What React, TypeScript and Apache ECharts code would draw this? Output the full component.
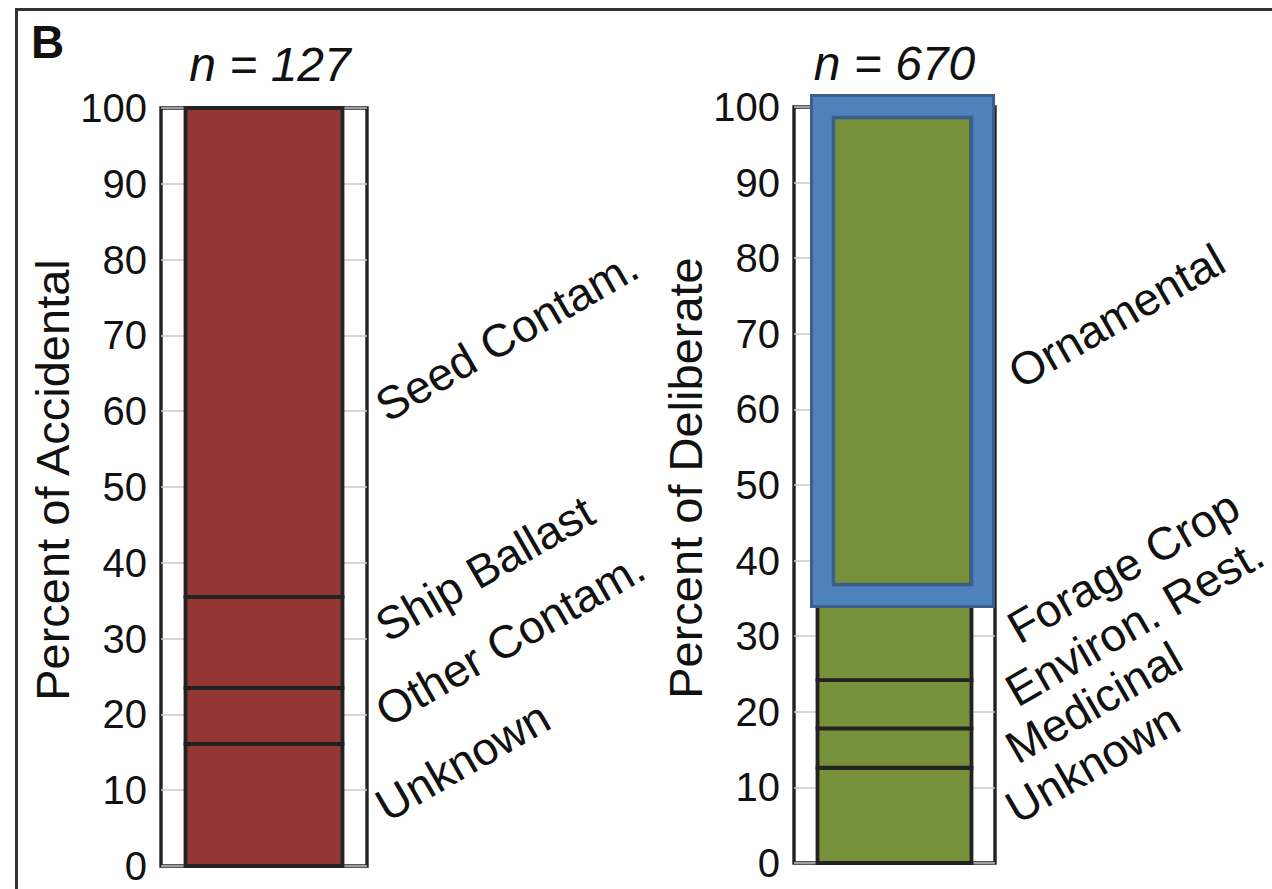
import React, { useEffect, useRef } from "react";
import * as echarts from "echarts";

// ---- data ----
const accidentalCategories = ["Unknown", "Other Contam.", "Ship Ballast", "Seed Contam."];
const accidentalValues = [16.1, 7.4, 12.0, 64.5];
const deliberateCategories = ["Unknown", "Medicinal", "Environ. Rest.", "Forage Crop", "Ornamental"];
const deliberateValues = [12.6, 5.2, 6.4, 10.8, 65.0];
const panelTitles = ["n = 127", "n = 670"];
const axisNames = ["Percent of Accidental", "Percent of Deliberate"];
const panelLetter = "B";

// ---- layout (pixels) ----
const accLabelPos = [
  [391, 829],
  [391, 734],
  [391, 649],
  [391, 429],
];
const delLabelPos = [
  [1021, 831],
  [1021, 771],
  [1021, 714],
  [1023, 651],
  [1024, 396],
];

const FONT = "'Liberation Sans', Arial, Helvetica, sans-serif";
const RED = "#933634";
const GREEN = "#77913a";
const EDGE = "#222222";

function stackSegments(values: number[]) {
  const out: number[][] = [];
  let acc = 0;
  values.forEach((v) => {
    out.push([0, acc, acc + v]);
    acc += v;
  });
  return out;
}

export default function App() {
  const ref = useRef<HTMLDivElement>(null);
  useEffect(() => {
    if (!ref.current) return;
    const chart = echarts.init(ref.current, null, { renderer: "svg" });

    const yAxisBase = (gridIndex: number, name: string) => ({
      type: "value",
      gridIndex,
      min: 0,
      max: 100,
      interval: 10,
      name,
      nameLocation: "middle",
      nameGap: 68,
      nameTextStyle: { fontSize: 47, color: "#111", fontFamily: FONT, padding: [0, 0, 0, 14] },
      axisLine: { show: false },
      axisTick: { show: false },
      axisLabel: { fontSize: 40, color: "#111", fontFamily: FONT, margin: 14 },
      splitLine: { show: true, lineStyle: { color: "#c8c8c8", width: 1.5 } },
    });

    const xAxisBase = (gridIndex: number, title: string, pad: number) => ({
      type: "category",
      gridIndex,
      position: "top",
      data: [title],
      axisLine: { show: false },
      axisTick: { show: false },
      axisLabel: {
        fontSize: 48,
        fontStyle: "italic",
        color: "#111",
        fontFamily: FONT,
        margin: 20,
        padding: [0, 0, 0, pad],
      },
      splitLine: { show: false },
    });

    const stackedSeries = (vals: number[], idx: number, color: string, width: number) => ({
      type: "custom",
      xAxisIndex: idx,
      yAxisIndex: idx,
      encode: { x: 0, y: [1, 2] },
      data: stackSegments(vals),
      renderItem: (params: any, api: any) => {
        const c = api.value(0);
        const lo = api.coord([c, api.value(1)]);
        const hi = api.coord([c, api.value(2)]);
        return {
          type: "rect",
          shape: { x: lo[0] - width / 2, y: hi[1], width, height: lo[1] - hi[1] },
          style: { fill: color, stroke: EDGE, lineWidth: 3.8 },
        };
      },
    });

    const labelTexts = (cats: string[], pos: number[][]) =>
      cats.map((c, i) => ({
        type: "text",
        x: pos[i][0],
        y: pos[i][1],
        rotation: Math.PI / 6,
        style: {
          text: c,
          font: `46px ${FONT}`,
          fill: "#111",
          align: "left",
          verticalAlign: "bottom",
        },
        z: 100,
      }));

    chart.setOption({
      animation: false,
      backgroundColor: "#ffffff",
      grid: [
        { left: 161, top: 108, width: 206, height: 758, show: true, borderColor: EDGE, borderWidth: 3.4, backgroundColor: "#fff" },
        { left: 794, top: 107, width: 201, height: 756, show: true, borderColor: EDGE, borderWidth: 3.4, backgroundColor: "#fff" },
      ],
      xAxis: [xAxisBase(0, panelTitles[0], 12), xAxisBase(1, panelTitles[1], 0)],
      yAxis: [yAxisBase(0, axisNames[0]), yAxisBase(1, axisNames[1])],
      series: [
        stackedSeries(accidentalValues, 0, RED, 157),
        stackedSeries(deliberateValues, 1, GREEN, 154),
      ],
      graphic: [
        { type: "line", shape: { x1: 15, y1: 9.5, x2: 1272, y2: 9.5 }, style: { stroke: "#333", lineWidth: 3 }, z: 100 },
        { type: "line", shape: { x1: 16.5, y1: 8, x2: 16.5, y2: 889 }, style: { stroke: "#333", lineWidth: 3 }, z: 100 },
        {
          type: "text",
          x: 31,
          y: 19,
          style: { text: panelLetter, font: `bold 46px ${FONT}`, fill: "#111", align: "left", verticalAlign: "top" },
          z: 100,
        },
        // highlight box
        { type: "rect", shape: { x: 821, y: 105, width: 163, height: 492 }, style: { fill: "none", stroke: "#4f81bd", lineWidth: 22 }, z: 100 },
        { type: "rect", shape: { x: 811.5, y: 95.5, width: 182, height: 511 }, style: { fill: "none", stroke: "#3a5f8c", lineWidth: 3 }, z: 101 },
        { type: "rect", shape: { x: 833.5, y: 117.5, width: 138, height: 467 }, style: { fill: "none", stroke: "#3a5f8c", lineWidth: 3.5 }, z: 101 },
        ...labelTexts(accidentalCategories, accLabelPos),
        ...labelTexts(deliberateCategories, delLabelPos),
      ],
    });
    return () => chart.dispose();
  }, []);

  return (
    <div
      ref={ref}
      style={{ position: "absolute", left: 0, top: 0, width: 1272, height: 889, background: "#fff" }}
    />
  );
}
